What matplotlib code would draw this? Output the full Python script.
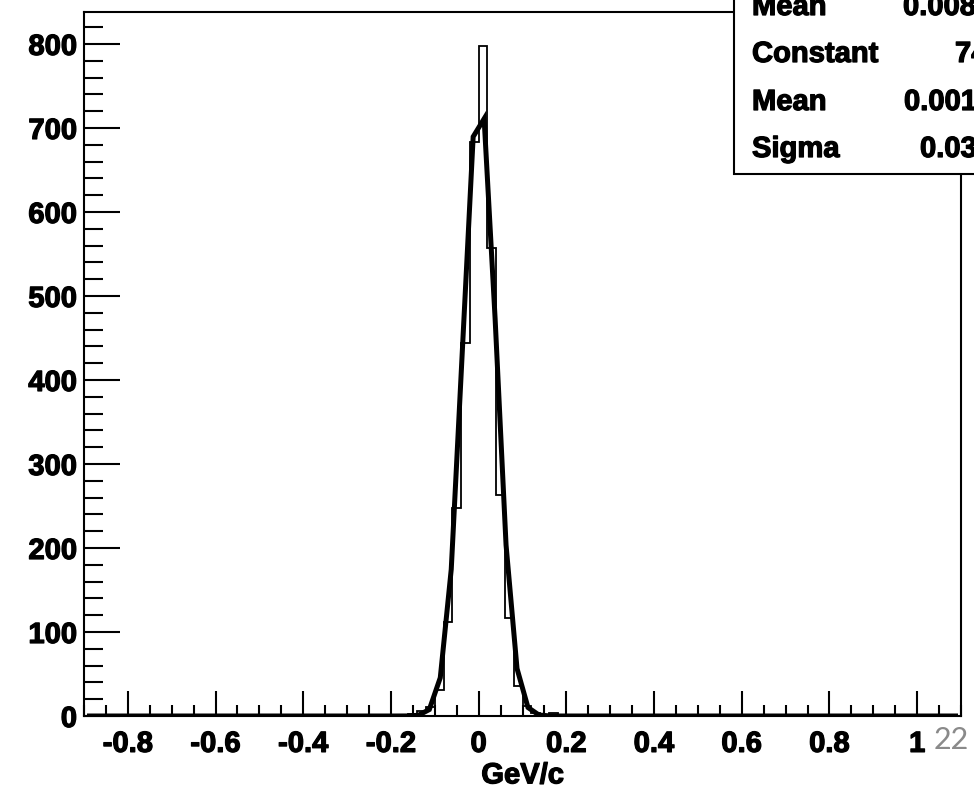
import numpy as np
import matplotlib
matplotlib.use("Agg")
import matplotlib.pyplot as plt
import matplotlib.patheffects as pe
from matplotlib.patches import Rectangle
from matplotlib.ticker import MultipleLocator, FuncFormatter

plt.rcParams["font.family"] = ["Liberation Sans", "DejaVu Sans"]
plt.rcParams["font.weight"] = "bold"
plt.rcParams["axes.unicode_minus"] = False

# histogram range: 100 bins of 0.02 between -0.9 and 1.1
x_min, x_max, n_bins = -0.9, 1.1, 100
# bins that are not empty (centres) and their contents
bin_centres = [-0.17, -0.15, -0.13, -0.11, -0.09, -0.07, -0.05, -0.03, -0.01,
               0.01, 0.03, 0.05, 0.07, 0.09, 0.11, 0.13, 0.15, 0.17]
bin_counts = [1, 2, 6, 11, 31, 112, 248, 444, 683,
              798, 557, 263, 117, 36, 12, 4, 1, 4]

# gaussian fit (stats box)
fit_const, fit_mean, fit_sigma = 740.3, 0.00175, 0.0378
stat_names = ["Mean", "Constant", "Mean", "Sigma"]
stat_values = ["0.00814", "740.3", "0.00175", "0.0378"]

W, H = 974, 789
heavy = [pe.withStroke(linewidth=0.9, foreground="black")]

fig = plt.figure(figsize=(W / 100, H / 100), dpi=100)
ax = fig.add_axes([84 / W, 1 - 716 / H, (961 - 84) / W, (716 - 12) / H])

edges = np.linspace(x_min, x_max, n_bins + 1)
counts = np.zeros(n_bins)
idx = np.floor((np.array(bin_centres) - x_min) / 0.02 + 1e-6).astype(int)
counts[idx] = bin_counts
ax.stairs(counts, edges, color="black", lw=1.3, baseline=0)

# fitted function drawn as a coarse polyline, like ROOT does
xf = np.arange(x_min + 0.0125, x_max, 0.025)
yf = fit_const * np.exp(-0.5 * ((xf - fit_mean) / fit_sigma) ** 2)
ax.plot(xf, yf, color="black", lw=3.6, solid_joinstyle="miter")

ax.set_xlim(x_min, x_max)
ax.set_ylim(0, 838)
for side in ("top", "right", "left", "bottom"):
    ax.spines[side].set_linewidth(1.5)

ax.xaxis.set_major_locator(MultipleLocator(0.2))
ax.xaxis.set_minor_locator(MultipleLocator(0.05))
ax.yaxis.set_major_locator(MultipleLocator(100))
ax.yaxis.set_minor_locator(MultipleLocator(20))
ax.xaxis.set_major_formatter(FuncFormatter(lambda v, p: f"{round(v, 2):g}"))
ax.tick_params(axis="x", which="major", direction="in", length=18, width=1.5,
               labelsize=21, pad=10, top=False)
ax.tick_params(axis="x", which="minor", direction="in", length=8, width=1.5,
               top=False)
ax.tick_params(axis="y", which="major", direction="in", length=26, width=1.5,
               labelsize=21, pad=5, right=False)
ax.tick_params(axis="y", which="minor", direction="in", length=14, width=1.5,
               right=False)
for lab in ax.get_xticklabels() + ax.get_yticklabels():
    lab.set_path_effects(heavy)
xl = ax.set_xlabel("GeV/c", fontsize=21, fontweight="bold", labelpad=2.5)
xl.set_path_effects(heavy)

# stats box, cut by the edge of the picture
box = Rectangle((734 / W, 1 - 174 / H), 0.4, 0.4, transform=fig.transFigure,
                facecolor="white", edgecolor="black", lw=1.5, zorder=5)
fig.patches.append(box)
baselines = [15, 62, 110, 157]
value_x = [903, 955, 904, 920]
for name, val, yb, xv in zip(stat_names, stat_values, baselines, value_x):
    fig.text(752 / W, 1 - yb / H, name, fontsize=21, fontweight="bold",
             va="baseline", ha="left", zorder=6, path_effects=heavy)
    fig.text(xv / W, 1 - yb / H, val, fontsize=21, fontweight="bold",
             va="baseline", ha="left", zorder=6, path_effects=heavy)

# slide page number
fig.text(951 / W, 1 - 740 / H, "22", fontsize=22, color="#8a8a8a",
         family=["Lato", "DejaVu Sans"], fontweight="normal",
         ha="center", va="center", zorder=6)

fig.savefig("out.png", dpi=100)
